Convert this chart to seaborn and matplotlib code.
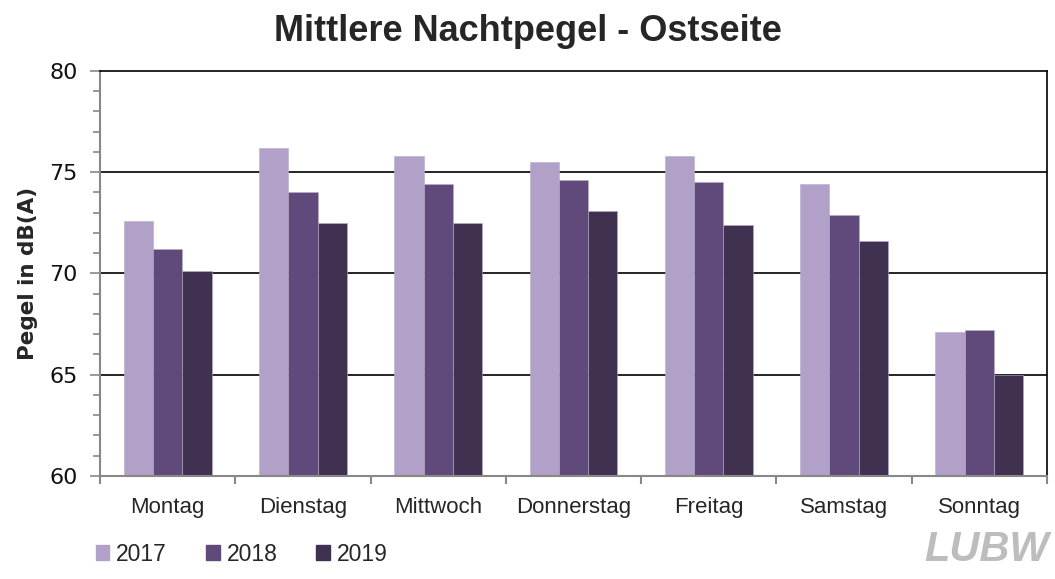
import matplotlib
matplotlib.use('Agg')
from matplotlib import pyplot as plt
from matplotlib.ticker import MultipleLocator, FixedLocator
import pandas as pd
import seaborn as sns

#### DATA ####
tage = ['Montag', 'Dienstag', 'Mittwoch', 'Donnerstag', 'Freitag', 'Samstag', 'Sonntag']
jahre = ['2017', '2018', '2019']
pegel_2017 = [72.6, 76.2, 75.8, 75.5, 75.8, 74.4, 67.1]
pegel_2018 = [71.2, 74.0, 74.4, 74.6, 74.5, 72.9, 67.2]
pegel_2019 = [70.1, 72.5, 72.5, 73.1, 72.4, 71.6, 65.0]
farben = ['#B1A0C7', '#604A7B', '#403151']

df = pd.DataFrame({
    'Tag': tage * 3,
    'Jahr': ['2017'] * 7 + ['2018'] * 7 + ['2019'] * 7,
    'Pegel': pegel_2017 + pegel_2018 + pegel_2019,
})

#### PLOT ####
sns.set_style('white')
plt.rcParams['font.family'] = ['Liberation Sans', 'DejaVu Sans']

fig = plt.figure(figsize=(10.55, 5.79), dpi=100)
ax = fig.add_axes([0.0948, 0.1779, 0.8976, 0.6995])

ax.set_ylim(60, 80)
for y in [65, 70, 75]:
    ax.axhline(y, color='black', lw=1.2, zorder=0)

sns.barplot(data=df, x='Tag', y='Pegel', hue='Jahr', hue_order=jahre,
            palette=farben, width=0.65, gap=0, saturation=1,
            edgecolor='#b8acc8', linewidth=0.4, ax=ax, zorder=2)
ax.set_ylim(60, 80)
ax.set_xlim(-0.5, 6.5)

# spines
for s in ['left', 'bottom']:
    ax.spines[s].set_color('#888888')
    ax.spines[s].set_linewidth(1.5)
for s in ['top', 'right']:
    ax.spines[s].set_color('black')
    ax.spines[s].set_linewidth(1.2)

# ticks
ax.yaxis.set_major_locator(MultipleLocator(5))
ax.yaxis.set_minor_locator(MultipleLocator(1))
ax.tick_params(axis='y', which='both', direction='out', left=True,
               color='#888888', width=1.2, labelsize=16, pad=9)
ax.tick_params(axis='y', which='major', length=7)
ax.tick_params(axis='y', which='minor', length=5)
for lab in ax.get_yticklabels():
    lab.set_fontfamily('DejaVu Sans')
    lab.set_color('#111111')

ax.xaxis.set_major_locator(FixedLocator(range(7)))
ax.xaxis.set_minor_locator(FixedLocator([i - 0.5 for i in range(8)]))
ax.set_xticklabels(tage, fontsize=16)
ax.tick_params(axis='x', which='major', length=0, pad=15)
ax.tick_params(axis='x', which='minor', bottom=True, direction='out',
               length=6, width=1.5, color='#888888')

ax.set_xlabel('')
ax.set_ylabel('Pegel in dB(A)', fontsize=15.5, fontweight='bold',
              fontfamily='DejaVu Sans', labelpad=8)

fig.suptitle('Mittlere Nachtpegel - Ostseite', fontsize=26, fontweight='bold',
             x=0.5, y=0.975, family=['Liberation Sans Narrow', 'Liberation Sans'])

# legend
ax.legend_.remove()
handles = [plt.Rectangle((0, 0), 1, 1, color=c) for c in farben]
fig.legend(handles, jahre, loc='center left', bbox_to_anchor=(0.071, 0.043),
           ncol=3, frameon=False, fontsize=16.5, handlelength=0.6,
           handleheight=0.6, handletextpad=0.3, columnspacing=1.7)

# logo
fig.text(0.994, 0.05, 'LUBW', ha='right', va='center', fontsize=30,
         fontweight='bold', fontstyle='italic', color='#BDBDBD',
         family=['Liberation Sans Narrow', 'Liberation Sans'])

fig.savefig('out.png', dpi=100)
